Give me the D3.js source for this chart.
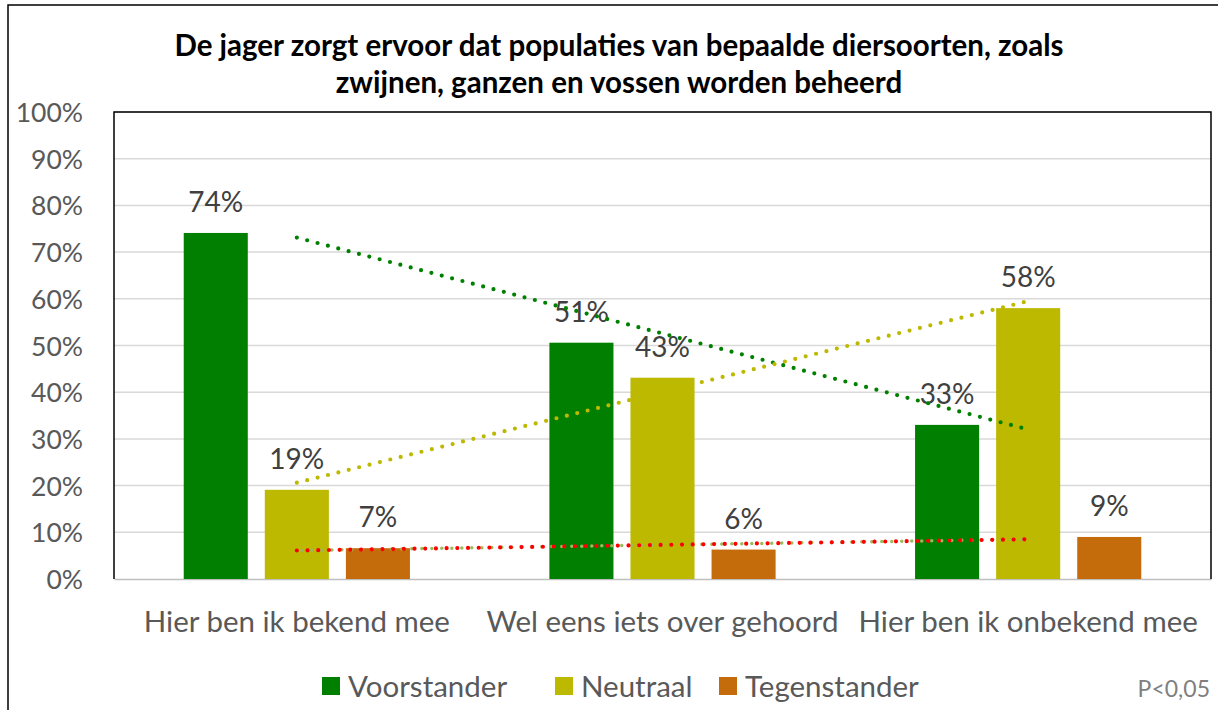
<!DOCTYPE html>
<html>
<head>
<meta charset="utf-8">
<script src="https://cdn.jsdelivr.net/npm/d3@7"></script>
<style>
  body { margin: 0; background: #fff; }
  text { font-family: Lato, "Open Sans", sans-serif; }
</style>
</head>
<body>
<svg id="chart" width="1218" height="710"></svg>
<script>
const categories = ["Hier ben ik bekend mee", "Wel eens iets over gehoord", "Hier ben ik onbekend mee"];
const series = ["Voorstander", "Neutraal", "Tegenstander"];
const voorstander = [74.1, 50.6, 33.0];
const neutraal = [19.1, 43.1, 58.0];
const tegenstander = [6.6, 6.3, 9.0];
const yTicks = [0, 10, 20, 30, 40, 50, 60, 70, 80, 90, 100];
const titleLines = ["De jager zorgt ervoor dat populaties van bepaalde diersoorten, zoals",
                    "zwijnen, ganzen en vossen worden beheerd"];
const note = "P<0,05";

const values = [voorstander, neutraal, tegenstander];
const colors = ["#007f00", "#bdb800", "#c46b0b"];
const trendColors = ["#008000", "#bdb800", "#ff0000"];

const svg = d3.select("#chart");
const PLOT = { left: 114, right: 1211, top: 112, bottom: 579 };

// outer frame
svg.append("rect")
   .attr("x", 8).attr("y", 5)
   .attr("width", 1230).attr("height", 730)
   .attr("fill", "none").attr("stroke", "#000").attr("stroke-width", 1.5);

// title
svg.append("text")
   .attr("text-anchor", "middle")
   .attr("font-size", 29.5).attr("font-weight", "bold").attr("fill", "#000")
   .selectAll("tspan")
   .data(titleLines)
   .enter()
   .append("tspan")
   .attr("x", 619)
   .attr("y", (d, i) => 56 + i * 37)
   .text(d => d);

const x0 = d3.scaleBand()
             .domain(categories)
             .range([PLOT.left, PLOT.right]);

const x1 = d3.scaleBand()
             .domain(series)
             .range([0, x0.bandwidth()])
             .paddingInner(0.21)
             .paddingOuter(0.86);

const yScale = d3.scaleLinear()
                 .domain([0, 100])
                 .range([PLOT.bottom, PLOT.top]);

// gridlines
svg.append("g")
   .selectAll("line")
   .data(yTicks.slice(1))
   .enter()
   .append("line")
   .attr("x1", PLOT.left).attr("x2", PLOT.right)
   .attr("y1", d => yScale(d)).attr("y2", d => yScale(d))
   .attr("stroke", "#d9d9d9").attr("stroke-width", 1.5);

// y axis labels
const yAxis = d3.axisLeft(yScale)
                .tickValues(yTicks)
                .tickFormat(d => d + "%")
                .tickSize(0)
                .tickPadding(31);

const yG = svg.append("g")
              .attr("transform", `translate(${PLOT.left}, 0)`)
              .call(yAxis);
yG.select(".domain").remove();
yG.selectAll("text")
  .attr("font-size", 26.5).attr("fill", "#595959")
  .attr("dy", "0.36em");

// x axis labels
const xAxis = d3.axisBottom(x0).tickSize(0).tickPadding(32);
const xG = svg.append("g")
              .attr("transform", `translate(0, ${PLOT.bottom})`)
              .call(xAxis);
xG.select(".domain").attr("stroke", "#bfbfbf").attr("stroke-width", 1.5);
xG.selectAll("text")
  .attr("font-size", 29.5).attr("fill", "#595959");

// plot frame (left, top, right)
svg.append("path")
   .attr("d", `M${PLOT.left},${PLOT.bottom}V${PLOT.top}H${PLOT.right}V${PLOT.bottom}`)
   .attr("fill", "none").attr("stroke", "#000").attr("stroke-width", 1.5);

// bars
const groups = svg.append("g")
                  .selectAll("g")
                  .data(series)
                  .enter()
                  .append("g")
                  .attr("fill", (d, i) => colors[i]);

groups.selectAll("rect")
      .data((s, si) => categories.map((c, ci) => ({ s: s, c: c, v: values[si][ci] })))
      .enter()
      .append("rect")
      .attr("x", d => x0(d.c) + x1(d.s))
      .attr("y", d => yScale(d.v))
      .attr("width", x1.bandwidth())
      .attr("height", d => PLOT.bottom - yScale(d.v));

// data labels
groups.selectAll("text")
      .data((s, si) => categories.map((c, ci) => ({ s: s, c: c, v: values[si][ci] })))
      .enter()
      .append("text")
      .attr("x", d => x0(d.c) + x1(d.s) + x1.bandwidth() / 2)
      .attr("y", d => yScale(d.v) - 21)
      .attr("text-anchor", "middle")
      .attr("font-size", 28).attr("fill", "#404040")
      .text(d => Math.round(d.v) + "%");

// linear trendlines through category centres
const centre = c => x0(c) + x0.bandwidth() / 2;
function trend(vals) {
    const n = vals.length;
    const xs = d3.range(1, n + 1);
    const mx = d3.mean(xs), my = d3.mean(vals);
    const slope = d3.sum(xs, (x, i) => (x - mx) * (vals[i] - my)) / d3.sum(xs, x => (x - mx) * (x - mx));
    return xs.map(x => my + slope * (x - mx));
}
const line = d3.line()
               .x((d, i) => centre(categories[i]))
               .y(d => yScale(d));

// faint second trend under the red one
svg.append("path")
   .attr("d", line(trend(tegenstander)))
   .attr("fill", "none").attr("stroke", "#9bbb59")
   .attr("stroke-width", 3.5).attr("stroke-linecap", "round")
   .attr("stroke-dasharray", "0 10").attr("stroke-dashoffset", 5);

values.forEach((vals, i) => {
    svg.append("path")
       .attr("d", line(trend(vals)))
       .attr("fill", "none").attr("stroke", trendColors[i])
       .attr("stroke-width", 4.2).attr("stroke-linecap", "round")
       .attr("stroke-dasharray", "0 10.7");
});

// legend
const legendX = [322, 555, 719];
const legend = svg.append("g")
                  .selectAll("g")
                  .data(series)
                  .enter()
                  .append("g")
                  .attr("transform", (d, i) => `translate(${legendX[i]}, 677)`);
legend.append("rect")
      .attr("width", 18).attr("height", 18)
      .attr("fill", (d, i) => colors[i]);
legend.append("text")
      .attr("x", 26).attr("y", 20)
      .attr("font-size", 29.5).attr("fill", "#595959")
      .text(d => d);

svg.append("text")
   .attr("x", 1210).attr("y", 697)
   .attr("text-anchor", "end")
   .attr("font-size", 23).attr("fill", "#7f7f7f")
   .text(note);
</script>
</body>
</html>
